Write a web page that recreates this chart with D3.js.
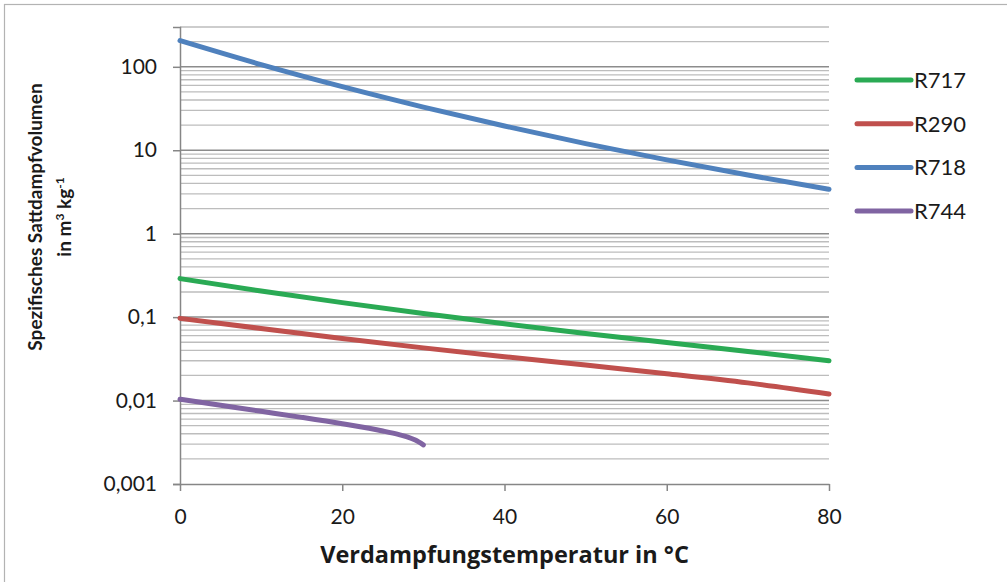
<!DOCTYPE html>
<html>
<head>
<meta charset="utf-8">
<script src="https://cdn.jsdelivr.net/npm/d3@7"></script>
<style>
  html, body { margin: 0; padding: 0; background: #fff; }
  svg { display: block; }
  text { font-family: Lato, "Open Sans", sans-serif; fill: #1a1a1a; }
</style>
</head>
<body>
<svg id="chart" width="1007" height="582"></svg>
<script>
// Specific saturated vapour volume (m³/kg) vs. evaporation temperature (°C)
const tempsFull = [0, 10, 20, 30, 40, 50, 60, 70, 80];
const r717 = [0.2895, 0.2056, 0.1492, 0.1105, 0.0833, 0.0638, 0.0495, 0.0388, 0.0300];
const r290 = [0.0966, 0.0730, 0.0556, 0.0428, 0.0336, 0.0266, 0.0210, 0.0163, 0.0120];
const r718 = [206.0, 106.3, 57.8, 32.9, 19.5, 12.0, 7.67, 5.04, 3.41];
const tempsR744 = [0, 5, 10, 15, 20, 25, 27, 28, 29, 30];
const r744 = [0.01036, 0.00877, 0.00743, 0.00629, 0.00527, 0.00432, 0.00391, 0.00368, 0.00336, 0.00294];

const seriesNames = ["R717", "R290", "R718", "R744"];
const seriesColors = ["#2aaa54", "#c0504d", "#4f81bd", "#8064a2"];

const xTicks = [0, 20, 40, 60, 80];
const yTicks = [0.001, 0.01, 0.1, 1, 10, 100];
const yTickLabels = ["0,001", "0,01", "0,1", "1", "10", "100"];

const series = [
  { name: seriesNames[0], color: seriesColors[0], x: tempsFull, y: r717 },
  { name: seriesNames[1], color: seriesColors[1], x: tempsFull, y: r290 },
  { name: seriesNames[2], color: seriesColors[2], x: tempsFull, y: r718 },
  { name: seriesNames[3], color: seriesColors[3], x: tempsR744, y: r744 }
];

const svg = d3.select("#chart");
const plot = { left: 180, right: 829, top: 27, bottom: 484 };
const tickFont = "21px";

// outer frame
svg.append("rect")
  .attr("x", 4.5).attr("y", 4.5).attr("width", 1100).attr("height", 700)
  .attr("fill", "none").attr("stroke", "#b3b3b3").attr("stroke-width", 1.2);

const x = d3.scaleLinear().domain([0, 80]).range([plot.left, plot.right]);
const y = d3.scaleLog().domain([0.001, 300]).range([plot.bottom, plot.top]);

// gridlines: minor (2..9 per decade) and major (decades)
const minor = [];
for (let e = -3; e <= 2; e++) {
  for (let m = 2; m <= 9; m++) {
    const v = m * Math.pow(10, e);
    if (v <= 300) minor.push(v);
  }
}
svg.append("g").selectAll("line").data(minor).join("line")
  .attr("x1", plot.left).attr("x2", plot.right)
  .attr("y1", d => y(d)).attr("y2", d => y(d))
  .attr("stroke", "#bdbdbd").attr("stroke-width", 1.3);

svg.append("g").selectAll("line").data(yTicks.slice(1)).join("line")
  .attr("x1", plot.left).attr("x2", plot.right)
  .attr("y1", d => y(d)).attr("y2", d => y(d))
  .attr("stroke", "#8c8c8c").attr("stroke-width", 1.5);

// y axis
const yAxis = d3.axisLeft(y).tickValues(yTicks)
  .tickFormat((d, i) => yTickLabels[i]).tickSize(7).tickPadding(16);
const gy = svg.append("g").attr("transform", `translate(${plot.left},0)`).call(yAxis);
gy.select(".domain").attr("stroke", "#868686").attr("stroke-width", 1.5);
gy.selectAll(".tick line").attr("stroke", "#868686").attr("stroke-width", 1.5);
gy.selectAll(".tick text").style("font-size", tickFont).attr("fill", "#1a1a1a")
  .style("font-family", "Lato, 'Open Sans', sans-serif");

// x axis
const xAxis = d3.axisBottom(x).tickValues(xTicks).tickSize(7).tickPadding(18).tickSizeOuter(0);
const gx = svg.append("g").attr("transform", `translate(0,${plot.bottom})`).call(xAxis);
gx.select(".domain").attr("stroke", "#868686").attr("stroke-width", 1.5);
gx.selectAll(".tick line").attr("stroke", "#868686").attr("stroke-width", 1.5);
gx.selectAll(".tick text").style("font-size", tickFont).attr("fill", "#1a1a1a")
  .style("font-family", "Lato, 'Open Sans', sans-serif");

// series lines
const line = d3.line().curve(d3.curveMonotoneX);
svg.append("g").selectAll("path").data(series).join("path")
  .attr("d", s => line(s.x.map((t, i) => [x(t), y(s.y[i])])))
  .attr("fill", "none")
  .attr("stroke", s => s.color)
  .attr("stroke-width", 5)
  .attr("stroke-linecap", "round");

// legend
const legend = svg.append("g").attr("transform", "translate(857,80)");
const items = legend.selectAll("g").data(series).join("g")
  .attr("transform", (d, i) => `translate(0,${i * 43.7})`);
items.append("line").attr("x1", 0).attr("x2", 54)
  .attr("stroke", d => d.color).attr("stroke-width", 5).attr("stroke-linecap", "round");
items.append("text").attr("x", 57).attr("dy", "0.36em")
  .style("font-size", "22px").text(d => d.name);

// axis titles
svg.append("text")
  .attr("x", (plot.left + plot.right) / 2).attr("y", 563)
  .attr("text-anchor", "middle")
  .style("font-family", "'Open Sans', Lato, sans-serif")
  .style("font-size", "23.5px").style("font-weight", "bold")
  .text("Verdampfungstemperatur in °C");

const yt = svg.append("text")
  .attr("transform", "translate(0,217) rotate(-90)")
  .attr("text-anchor", "middle")
  .style("font-size", "19px").style("font-weight", "bold");
yt.append("tspan").attr("x", 0).attr("y", 42).text("Spezifisches Sattdampfvolumen");
const l2 = yt.append("tspan").attr("x", 0).attr("y", 71);
l2.append("tspan").text("in m");
l2.append("tspan").style("font-size", "12px").attr("dy", -7).text("3");
l2.append("tspan").attr("dy", 7).text(" kg");
l2.append("tspan").style("font-size", "12px").attr("dy", -7).text("-1");
</script>
</body>
</html>
